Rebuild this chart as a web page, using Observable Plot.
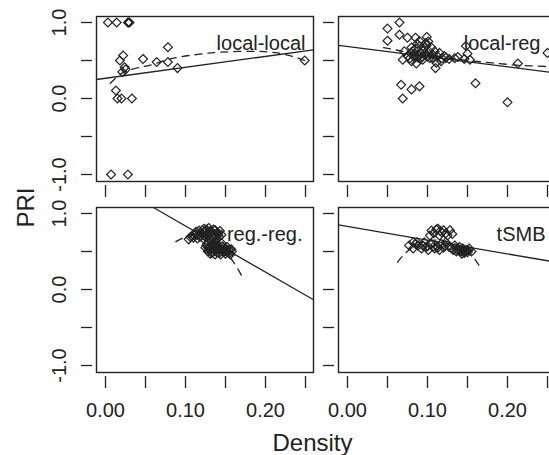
<!DOCTYPE html>
<html>
<head>
<meta charset="utf-8">
<script src="https://cdn.jsdelivr.net/npm/d3@7"></script>
<script src="https://cdn.jsdelivr.net/npm/@observablehq/plot@0.6"></script>
<style>
  html, body { margin: 0; padding: 0; background: #fff; }
  #chart { position: relative; width: 549px; height: 455px; overflow: hidden; background: #fff;
           font-family: "Liberation Sans", Arial, sans-serif; color: #222; }
  #chart svg { position: absolute; left: 0; top: 0; }
</style>
</head>
<body>
<div id="chart"></div>
<script>
// ---- tick values / labels ----
const xTicks = [0, 0.05, 0.10, 0.15, 0.20, 0.25];
const xLabels = [0, 0.10, 0.20];
const yTicks = [-1, -0.5, 0, 0.5, 1];
const yLabels = [-1, 0, 1];
const panelNames = ["local-local", "local-reg", "reg.-reg.", "tSMB"];
const xTitle = "Density";
const yTitle = "PRI";

// ---- local-local ----
const localLocalPts = [
  [0.003,1.0],[0.014,1.0],[0.028,1.0],[0.030,1.0],[0.029,1.0],
  [0.022,0.565],[0.018,0.50],[0.024,0.41],[0.021,0.35],[0.025,0.38],
  [0.047,0.52],[0.064,0.48],[0.078,0.675],[0.078,0.48],[0.090,0.40],
  [0.013,0.105],[0.015,0.0],[0.020,0.0],[0.033,0.0],
  [0.007,-1.0],[0.028,-1.0],[0.249,0.50]
];
const localLocalFit = [[-0.01125,0.25],[0.26,0.64]];
const localLocalSmooth = [[0.006,0.20],[0.020,0.33],[0.035,0.39],[0.056,0.44],[0.085,0.53],
  [0.115,0.58],[0.145,0.61],[0.190,0.62],[0.215,0.60],[0.235,0.55],[0.249,0.50]];

// ---- local-reg ----
const localRegPts = [
  [0.065,1.0],[0.050,0.92],[0.065,0.84],[0.050,0.76],[0.075,0.80],[0.085,0.80],[0.099,0.81],
  [0.087,0.72],[0.090,0.755],[0.098,0.73],[0.071,0.62],[0.080,0.67],[0.090,0.69],[0.096,0.67],
  [0.105,0.67],[0.109,0.62],[0.115,0.60],[0.121,0.56],[0.069,0.51],[0.080,0.49],[0.086,0.46],
  [0.094,0.51],[0.103,0.535],[0.111,0.47],[0.110,0.40],[0.117,0.49],[0.123,0.535],[0.075,0.56],
  [0.084,0.58],[0.092,0.59],[0.098,0.58],[0.078,0.53],[0.088,0.54],[0.100,0.55],[0.106,0.58],
  [0.082,0.62],[0.094,0.63],[0.101,0.75],[0.099,0.70],[0.138,0.545],[0.134,0.53],[0.146,0.52],
  [0.148,0.69],[0.150,0.59],[0.153,0.51],[0.127,0.52],[0.067,0.18],[0.080,0.12],[0.090,0.16],
  [0.069,0.0],[0.160,0.20],[0.200,-0.05],[0.213,0.46],[0.250,0.60],
  [0.083,0.55],[0.089,0.57],[0.093,0.55],[0.097,0.60],[0.102,0.62],[0.085,0.66],[0.079,0.60],
  [0.091,0.52],[0.107,0.53],[0.112,0.56],[0.118,0.53]
];
const localRegFit = [[-0.01125,0.70],[0.26,0.336]];
const localRegSmooth = [[0.045,0.67],[0.060,0.64],[0.080,0.60],[0.100,0.57],[0.120,0.54],
  [0.150,0.50],[0.180,0.47],[0.210,0.44],[0.250,0.42]];

// ---- reg.-reg. ----
const regRegPts = [
  [0.104,0.66],[0.108,0.70],[0.1125,0.73],[0.115,0.67],[0.117,0.776],[0.119,0.71],[0.1225,0.67],
  [0.123,0.80],[0.127,0.73],[0.129,0.81],[0.130,0.66],[0.133,0.71],[0.135,0.79],[0.1375,0.645],
  [0.140,0.75],[0.142,0.69],[0.125,0.76],[0.120,0.74],[0.131,0.77],[0.136,0.73],[0.118,0.69],
  [0.127,0.69],[0.110,0.68],[0.138,0.70],[0.143,0.77],[0.145,0.72],
  [0.113,0.76],[0.116,0.72],[0.121,0.78],[0.124,0.70],[0.126,0.79],[0.128,0.75],[0.132,0.74],
  [0.134,0.68],[0.137,0.78],[0.139,0.66],[0.141,0.72],[0.106,0.69],[0.111,0.71],
  [0.125,0.55],[0.127,0.60],[0.129,0.535],[0.131,0.47],[0.133,0.60],[0.135,0.53],[0.137,0.46],
  [0.140,0.58],[0.1415,0.52],[0.144,0.46],[0.146,0.57],[0.1475,0.52],[0.150,0.47],[0.152,0.56],
  [0.154,0.52],[0.156,0.46],[0.130,0.57],[0.136,0.56],[0.139,0.49],[0.143,0.54],[0.148,0.49],
  [0.153,0.49],[0.134,0.50],[0.128,0.50],[0.145,0.61],[0.138,0.62],[0.158,0.50],[0.150,0.54],
  [0.126,0.58],[0.129,0.56],[0.132,0.54],[0.135,0.59],[0.137,0.51],[0.141,0.55],[0.144,0.50],
  [0.147,0.55],[0.149,0.51],[0.151,0.50],[0.155,0.48],[0.133,0.48],[0.142,0.48],[0.157,0.53]
];
const regRegFit = [[0.0604,1.075],[0.26,-0.135]];
const regRegSmooth = [[0.088,0.63],[0.100,0.69],[0.115,0.72],[0.130,0.68],[0.145,0.57],
  [0.160,0.36],[0.172,0.15]];

// ---- tSMB ----
const tsmbPts = [
  [0.105,0.776],[0.111,0.79],[0.120,0.78],[0.128,0.78],[0.103,0.71],[0.115,0.71],[0.125,0.71],
  [0.131,0.73],[0.113,0.80],[0.108,0.74],[0.118,0.75],[0.116,0.77],[0.123,0.74],
  [0.082,0.62],[0.088,0.58],[0.082,0.54],[0.0925,0.54],[0.098,0.56],[0.105,0.60],[0.096,0.62],
  [0.109,0.54],[0.115,0.52],[0.117,0.60],[0.123,0.62],[0.127,0.56],[0.077,0.58],[0.087,0.62],
  [0.101,0.52],[0.112,0.57],[0.120,0.55],
  [0.085,0.60],[0.094,0.58],[0.100,0.57],[0.107,0.56],[0.113,0.55],[0.122,0.58],[0.130,0.55],
  [0.134,0.58],[0.140,0.56],[0.144,0.54],[0.148,0.52],[0.152,0.54],[0.142,0.50],[0.136,0.50],
  [0.146,0.48],[0.150,0.49],[0.140,0.52],[0.132,0.52],[0.138,0.54],[0.145,0.51],[0.155,0.50],
  [0.143,0.47],[0.137,0.52],[0.147,0.50],[0.151,0.51]
];
const tsmbFit = [[-0.01125,0.85],[0.26,0.36]];
const tsmbSmooth = [[0.0625,0.36],[0.0716,0.47],[0.082,0.56],[0.095,0.62],[0.110,0.65],
  [0.125,0.63],[0.140,0.57],[0.155,0.45],[0.163,0.34],[0.166,0.29]];

const panels = [
  {name: panelNames[0], pts: localLocalPts, fit: localLocalFit, smooth: localLocalSmooth, col: 0, row: 0, dx: -8},
  {name: panelNames[1], pts: localRegPts,   fit: localRegFit,   smooth: localRegSmooth,   col: 1, row: 0, dx: -15},
  {name: panelNames[2], pts: regRegPts,     fit: regRegFit,     smooth: regRegSmooth,     col: 0, row: 1, dx: -11},
  {name: panelNames[3], pts: tsmbPts,       fit: tsmbFit,       smooth: tsmbSmooth,       col: 1, row: 1, dx: -10}
];

const ink = "#222";
const W = 555, H = 455, PW = 221, PH = 169;
const chart = document.getElementById("chart");

for (const p of panels) {
  const left = p.col === 0 ? 92 : 334;
  const top = p.row === 0 ? 16 : 207;
  const marks = [
    Plot.frame({insetLeft: 4, insetBottom: 4, stroke: ink, strokeWidth: 1.4}),
    Plot.axisX(xTicks, {
      anchor: "bottom", tickSize: 12, tickPadding: 14, fontSize: 20, color: ink, strokeWidth: 1.3,
      label: null,
      tickFormat: p.row === 1 ? (d => xLabels.includes(d) ? d.toFixed(2) : "") : (() => "")
    }),
    Plot.axisY(yTicks, {
      anchor: "left", tickSize: 11, color: ink, strokeWidth: 1.3, label: null, tickFormat: () => ""
    }),
    Plot.dot(p.pts, {x: d => d[0], y: d => d[1], symbol: "diamond2", r: 4, stroke: ink, strokeWidth: 1.2, fill: "none"}),
    Plot.line(p.fit, {x: d => d[0], y: d => d[1], stroke: ink, strokeWidth: 1.3}),
    Plot.line(p.smooth, {x: d => d[0], y: d => d[1], stroke: ink, strokeWidth: 1.3, strokeDasharray: "7,6", curve: "catmull-rom"}),
    Plot.text([p.name], {frameAnchor: "top-right", text: d => d, textAnchor: "end", lineAnchor: "middle",
      dx: p.dx, dy: 27, fontSize: 20, fill: ink})
  ];
  if (p.col === 0) {
    marks.push(Plot.text(yLabels, {y: d => d, frameAnchor: "left", text: d => d.toFixed(1), rotate: -90,
      textAnchor: "middle", lineAnchor: "bottom", dx: -27, fontSize: 20, fill: ink}));
  }
  if (p.col === 0 && p.row === 1) {
    // axis titles, anchored to this panel's frame corners
    marks.push(Plot.text([yTitle], {frameAnchor: "top-left", text: d => d, rotate: -90,
      textAnchor: "middle", lineAnchor: "bottom", dx: -59, dy: 0, fontSize: 24, fill: ink}));
    marks.push(Plot.text([xTitle], {frameAnchor: "bottom-left", text: d => d,
      textAnchor: "middle", lineAnchor: "bottom", dx: 220, dy: 74, fontSize: 24, fill: ink}));
  }
  const svg = Plot.plot({
    width: W, height: H,
    marginLeft: left, marginRight: W - (left + PW), marginTop: top, marginBottom: H - (top + PH),
    style: "background: transparent; max-width: none; overflow: visible; font-family: 'Liberation Sans', Arial, sans-serif;",
    x: {domain: [-0.01625, 0.26], label: null},
    y: {domain: [-1.1447, 1.0789], label: null},
    marks
  });
  chart.appendChild(svg);
}
</script>
</body>
</html>
